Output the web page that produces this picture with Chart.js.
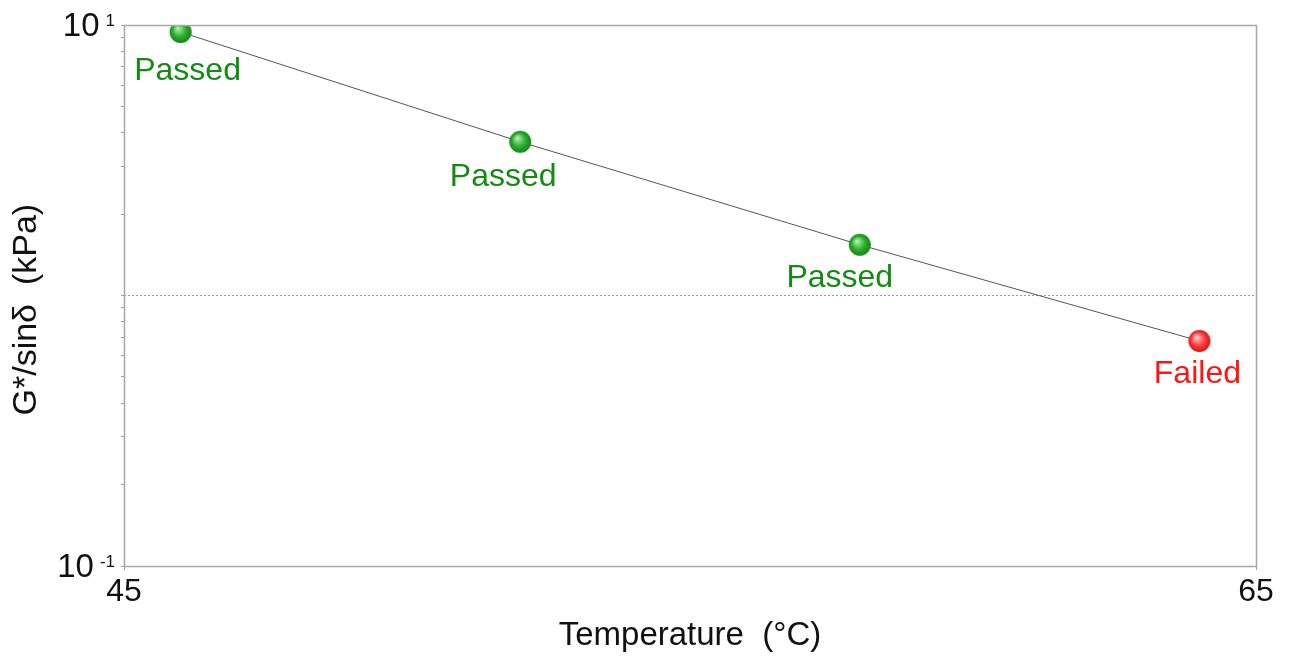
<!DOCTYPE html>
<html>
<head>
<meta charset="utf-8">
<script src="https://cdn.jsdelivr.net/npm/chart.js@4"></script>
<style>
  html, body { margin: 0; padding: 0; background: #fff; }
  #wrap { width: 1289px; height: 657px; }
</style>
</head>
<body>
<div id="wrap"><canvas id="c" width="1289" height="657"></canvas></div>
<script>
// ---- data ----
const temperatures = [46, 52, 58, 64];
const gStarSinDelta = [9.42, 3.70, 1.54, 0.679];
const statuses = ['Passed', 'Passed', 'Passed', 'Failed'];
const thresholdX = [45, 65];
const thresholdY = [1, 1];
const xTickValues = [45, 65];
const yMajorValues = [0.1, 1, 10];
const yMajorBase = ['10', '', '10'];
const yMajorExp = ['-1', '', '1'];
const xTitle = 'Temperature  (°C)';
const yTitle = 'G*/sinδ  (kPa)';

const FONT = '"Liberation Sans", Arial, Helvetica, sans-serif';
const GREEN = '#118c11';
const RED = '#ff1414';

function ball(c0, c1, c2) {
  const cv = document.createElement('canvas');
  cv.width = 24; cv.height = 24;
  const g = cv.getContext('2d');
  const grd = g.createRadialGradient(9, 8, 0.5, 12, 12, 11.5);
  grd.addColorStop(0, c0);
  grd.addColorStop(0.55, c1);
  grd.addColorStop(1, c2);
  g.fillStyle = grd;
  g.beginPath();
  g.arc(12, 12, 11, 0, Math.PI * 2);
  g.fill();
  return cv;
}
const greenBall = ball('#b4f2b4', '#2eb02e', '#137f13');
const redBall = ball('#ffd0d0', '#ff4040', '#d01010');

const frameAndLabels = {
  id: 'frameAndLabels',
  afterDatasetsDraw(chart, args, opts) {
    const ctx = chart.ctx;
    const a = chart.chartArea;
    ctx.save();
    ctx.strokeStyle = '#a8a8a8';
    ctx.lineWidth = 1.5;
    ctx.strokeRect(a.left + 0.5, a.top + 0.5, a.right - a.left, a.bottom - a.top);
    // status labels
    const meta = chart.getDatasetMeta(1);
    ctx.font = '32px ' + FONT;
    ctx.textAlign = 'center';
    ctx.textBaseline = 'alphabetic';
    meta.data.forEach((pt, i) => {
      ctx.fillStyle = statuses[i] === 'Failed' ? RED : GREEN;
      ctx.fillText(statuses[i], pt.x + opts.dx[i], pt.y + opts.dy[i]);
    });
    // y tick labels with exponent
    const ys = chart.scales.y;
    yMajorValues.forEach((v, i) => {
      if (!yMajorBase[i]) return;
      const py = ys.getPixelForValue(v);
      const right = 115;
      ctx.fillStyle = '#111';
      ctx.textAlign = 'right';
      ctx.font = '17px ' + FONT;
      const ew = ctx.measureText(yMajorExp[i]).width;
      ctx.fillText(yMajorExp[i], right, py + 1);
      ctx.font = '33px ' + FONT;
      ctx.fillText(yMajorBase[i], right - ew - 6, py + 11);
    });
    ctx.restore();
  }
};

new Chart(document.getElementById('c'), {
  type: 'line',
  data: {
    datasets: [
      {
        label: 'threshold',
        data: thresholdX.map((x, i) => ({ x, y: thresholdY[i] })),
        borderColor: '#9a9a9a',
        borderWidth: 1,
        borderDash: [2, 2],
        pointRadius: 0,
        fill: false,
        order: 2
      },
      {
        label: 'G*/sinδ',
        data: temperatures.map((x, i) => ({ x, y: gStarSinDelta[i] })),
        borderColor: '#555555',
        borderWidth: 1,
        tension: 0,
        fill: false,
        pointStyle: statuses.map(s => s === 'Failed' ? redBall : greenBall),
        pointRadius: 11,
        order: 1
      }
    ]
  },
  options: {
    responsive: false,
    animation: false,
    devicePixelRatio: 1,
    events: [],
    layout: { padding: { top: 25, right: 33, bottom: 0, left: 0 } },
    plugins: {
      legend: { display: false },
      tooltip: { enabled: false },
      frameAndLabels: { dx: [7, -17, -20, -2], dy: [48, 44, 42, 42] }
    },
    scales: {
      x: {
        type: 'linear',
        min: 45, max: 65,
        afterBuildTicks: s => { s.ticks = xTickValues.map(v => ({ value: v })); },
        afterFit: s => { s.height = 91; },
        grid: { display: true, drawOnChartArea: false, drawTicks: true, tickLength: 4, tickColor: '#a0a0a0', lineWidth: 1 },
        border: { display: false },
        ticks: {
          padding: 6,
          maxRotation: 0,
          autoSkip: false,
          color: '#111',
          font: { family: FONT, size: 32, lineHeight: 1 },
          callback: v => String(v)
        },
        title: {
          display: true,
          text: xTitle,
          color: '#111',
          font: { family: FONT, size: 33, lineHeight: 1 },
          padding: { top: 0, bottom: 5 }
        }
      },
      y: {
        type: 'logarithmic',
        min: 0.1, max: 10,
        afterBuildTicks: s => {
          const t = [];
          for (let d = 0; d < yMajorValues.length - 1; d++) {
            for (let m = 1; m < 10; m++) t.push({ value: yMajorValues[d] * m });
          }
          t.push({ value: yMajorValues[yMajorValues.length - 1] });
          s.ticks = t;
        },
        afterFit: s => { s.width = 124; },
        grid: { display: true, drawOnChartArea: false, drawTicks: true, tickLength: 3, tickColor: '#a0a0a0', lineWidth: 1 },
        border: { display: false },
        ticks: { autoSkip: false, callback: () => '', padding: 0 },
        title: {
          display: true,
          text: yTitle + '\u00a0\u00a0\u00a0',
          color: '#111',
          font: { family: FONT, size: 34, lineHeight: 1 },
          padding: { top: 10, bottom: 0 }
        }
      }
    }
  },
  plugins: [frameAndLabels]
});
</script>
</body>
</html>
